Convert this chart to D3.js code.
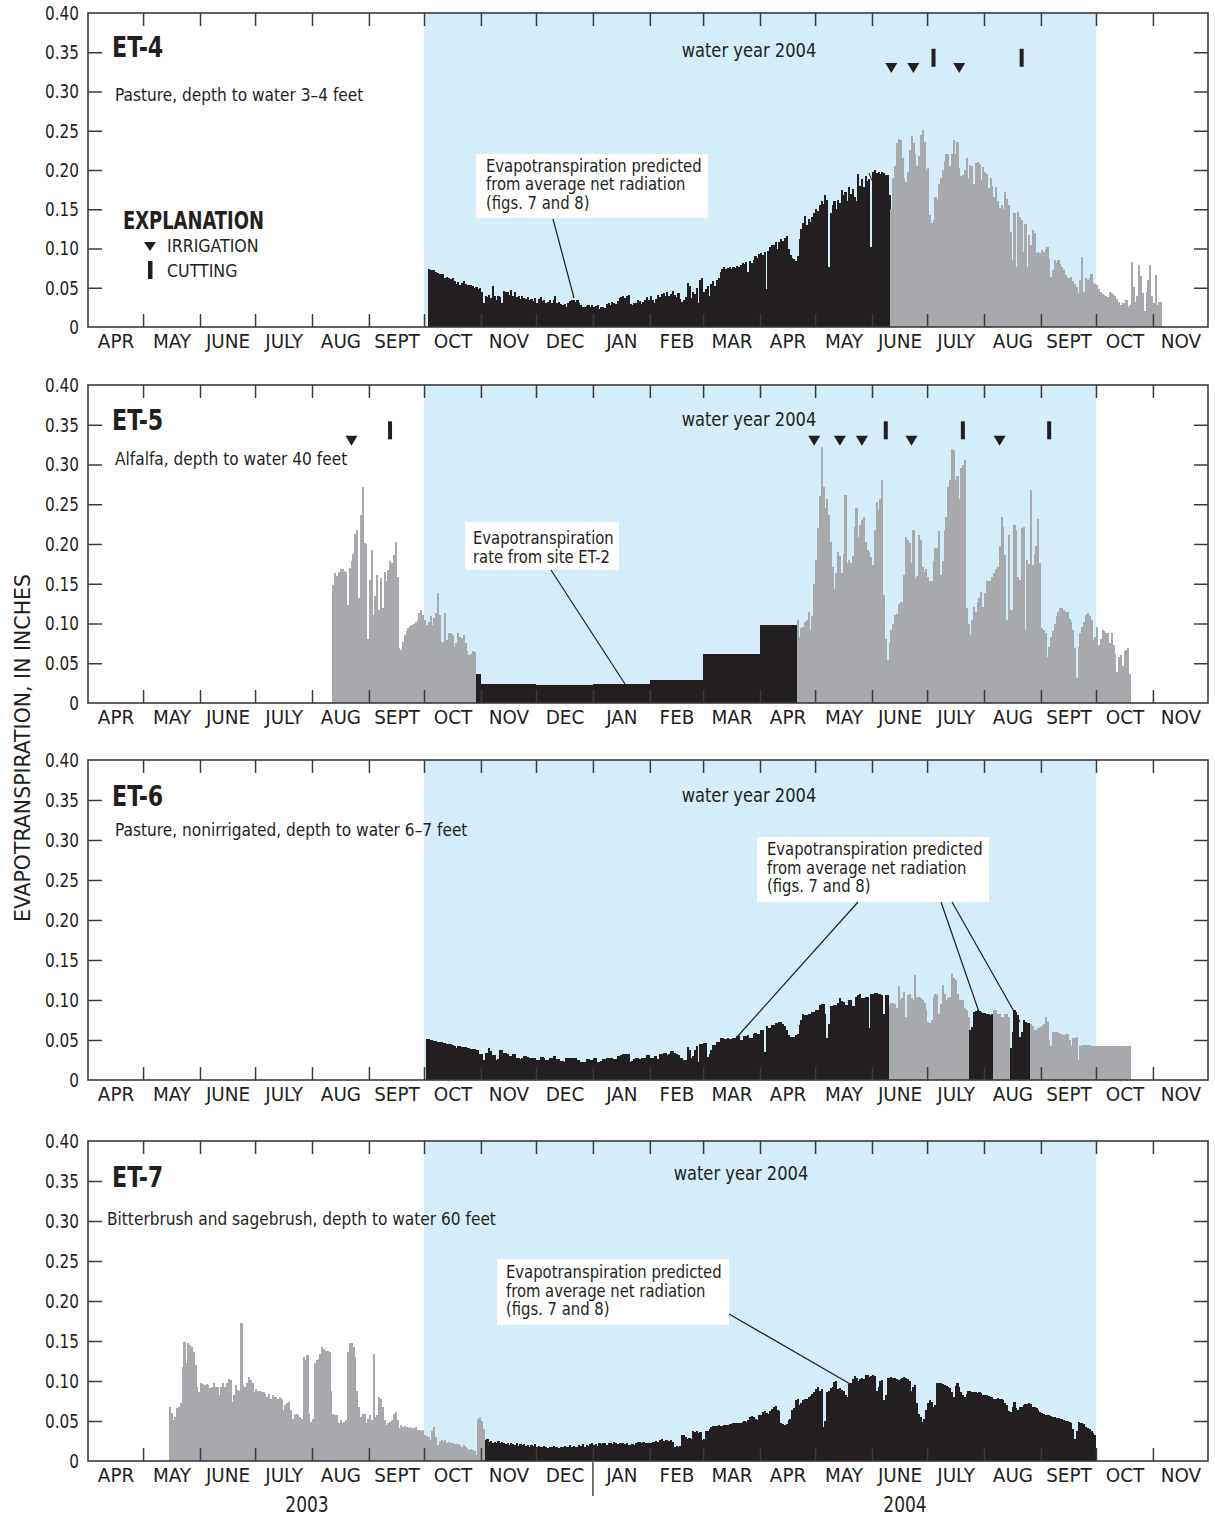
<!DOCTYPE html>
<html><head><meta charset="utf-8">
<script src="https://cdn.jsdelivr.net/npm/d3@7"></script>
<style>
body{margin:0;background:#fff;}
svg text{font-family:"Liberation Sans Narrow","Arial Narrow","DejaVu Sans Condensed",sans-serif;fill:#231f20;}
</style></head><body>
<svg id="chart" width="1215" height="1517"></svg>
<script>
// ---------------- DATA (daily evapotranspiration, thousandths of an inch) ----------------
const monthNames = ["JAN","FEB","MAR","APR","MAY","JUNE","JULY","AUG","SEPT","OCT","NOV","DEC"];
const yTickValues = [0,0.05,0.10,0.15,0.20,0.25,0.30,0.35,0.40];
const waterYear = ["2003-10-01","2004-10-01"];

// ET-4
const et4PredictedStart = "2003-10-03";
const et4Predicted = [74,73,72,73,70,69,68,67,68,63,64,62,61,62,59,55,57,53,56,58,55,54,54,54,52,50,51,49,50,45,
30,40,38,41,37,52,40,35,40,38,30,46,44,45,41,47,40,45,38,40,36,39,37,36,38,35,36,33,37,30,
36,38,33,35,31,32,34,30,35,39,31,32,29,28,29,26,31,33,34,35,32,34,31,28,26,25,27,28,26,28,
25,27,28,23,25,26,24,29,31,28,32,30,29,33,37,38,39,37,40,41,29,28,30,31,34,33,29,32,35,38,
34,40,35,31,36,41,38,42,43,39,44,40,42,46,41,38,43,36,32,34,38,56,52,37,45,42,50,30,60,62,
44,48,52,40,55,58,52,60,62,70,74,76,74,75,76,74,77,75,78,77,79,82,80,83,70,84,82,85,90,88,
93,94,92,96,48,97,102,105,104,108,100,108,112,110,114,116,100,92,88,86,84,90,112,125,132,142,130,138,134,140,
145,150,148,155,160,157,168,162,77,145,155,160,150,162,158,175,168,172,160,178,170,176,165,160,195,180,188,178,192,186,
188,102,198,200,196,197,195,198,196,193,193,168];
const et4MeasuredStart = "2004-06-11";
const et4Measured = [150,190,205,235,240,238,215,190,185,198,225,243,235,220,205,218,245,251,236,200,
203,143,132,136,166,162,182,190,200,212,221,220,205,220,238,221,236,202,192,194,
200,215,190,206,205,182,209,210,208,187,204,198,195,177,190,179,166,178,160,151,
155,150,172,163,155,121,85,145,76,147,140,136,96,131,77,117,104,123,120,94,
96,94,98,96,100,102,87,64,72,85,81,85,80,77,72,66,62,62,64,58,
55,51,43,60,89,45,62,60,62,68,56,55,53,48,45,42,41,39,38,44,
43,41,39,36,32,28,30,30,34,26,28,83,51,32,40,79,65,43,20,45,60,79,40,30,66,28,32,32];
const et4Irrigation = ["2004-06-11","2004-06-23","2004-07-18"];
const et4Cutting = ["2004-07-04","2004-08-21"];

// ET-5
const et5Measured2003Start = "2003-08-12";
const et5Measured2003 = [148,163,160,165,169,168,166,165,123,170,178,188,213,218,132,236,272,201,200,81,
155,192,111,134,161,117,157,119,165,153,167,178,176,186,203,159,69,67,77,86,
90,94,97,98,100,102,104,113,117,111,104,98,102,109,98,107,113,138,111,77,
77,113,79,88,88,86,71,75,88,83,82,86,75,65,60,62,65,64];
const et5FromET2Start = ["2003-10-29","2003-11-01","2003-12-01","2004-01-01","2004-02-01","2004-03-01","2004-04-01"];
const et5FromET2End   = ["2003-11-01","2003-12-01","2004-01-01","2004-02-01","2004-03-01","2004-04-01","2004-04-21"];
const et5FromET2 = [37,24,23,24,29,62,98];
const et5Measured2004Start = "2004-04-21";
const et5Measured2004 = [104,83,94,96,102,104,115,92,109,150,180,220,260,322,272,245,257,236,203,171,
144,163,190,185,163,188,262,176,180,176,185,222,245,209,224,230,234,203,192,190,
184,174,218,253,243,257,280,136,81,54,75,92,100,111,112,125,127,127,161,209,
205,201,176,218,157,160,211,205,171,165,168,159,153,153,178,195,195,216,161,178,
218,234,272,280,320,318,280,285,257,295,299,306,119,100,86,104,121,115,127,132,
140,121,138,153,153,153,159,163,169,171,197,234,222,186,104,211,117,117,224,218,
159,155,220,222,92,180,175,268,174,188,197,232,176,94,92,88,58,71,83,90,
100,109,115,119,119,117,115,114,106,102,92,69,31,71,88,96,102,111,113,110,
104,79,83,96,73,81,92,90,88,88,75,88,73,62,39,58,60,46,65,67,69,37];
const et5Irrigation = ["2003-08-22","2004-04-30","2004-05-14","2004-05-26","2004-06-22","2004-08-09"];
const et5Cutting = ["2003-09-12","2004-06-08","2004-07-20","2004-09-05"];

// ET-6
const et6PredictedAStart = "2003-10-02";
const et6PredictedA = [51,51,50,50,49,49,48,48,47,46,46,45,45,45,44,43,40,42,42,41,41,41,40,40,39,39,39,37,37,33,
33,25,34,34,40,36,31,31,25,26,37,37,34,34,33,30,30,32,32,28,28,26,27,30,30,29,28,28,27,27,
25,25,29,29,28,25,25,27,27,30,30,26,26,24,24,23,27,27,28,28,27,27,25,25,22,22,23,26,26,25,
25,27,27,23,23,24,26,26,28,28,27,27,26,26,30,30,31,32,32,33,33,23,24,26,28,28,26,27,28,28,
31,31,28,28,30,30,26,32,33,34,34,31,32,36,36,34,32,31,28,28,25,25,41,37,27,30,37,43,23,45,
45,46,46,29,33,37,44,44,48,48,52,52,51,51,52,51,51,53,53,55,55,50,50,55,55,56,53,53,57,59,
58,58,62,62,35,67,65,65,69,69,71,71,73,73,70,68,62,56,54,54,54,56,57,69,75,83,81,81,83,83,
85,85,87,87,94,95,95,83,52,70,92,92,94,94,96,102,99,98,94,94,100,100,92,92,104,106,108,102,102,104,
104,65,108,108,109,109,107,107,106,83,106,106];
const et6MeasuredAStart = "2004-06-10";
const et6MeasuredA = [94,96,96,95,90,117,100,102,110,79,106,108,102,100,131,104,104,102,100,96,
88,73,71,75,104,108,106,83,95,119,108,100,102,104,133,128,125,108,100,100,100,90,88,79];
const et6PredictedBStart = "2004-07-24";
const et6PredictedB = [63,66,85,86,88,86,85,84,84,83,82,81,82];
const et6MeasuredBStart = "2004-08-06";
const et6MeasuredB = [88,88,83,83,79,79,83,83,79];
const et6PredictedCStart = "2004-08-15";
const et6PredictedC = [40,60,88,85,81,54,60,75,73,71,71];
const et6MeasuredCStart = "2004-08-26";
const et6MeasuredC = [70,67,63,62,65,66,67,70,79,72,50,42,60,60,60,59,58,58,56,57,
58,50,42,52,53,54,25,42,44,44,44,44,44,43,43,43,43,43,42,42,42,42,42,42,42,43,42,42,42,42,42,42,42,42,42];

// ET-7
const et7MeasuredStart = "2003-05-15";
const et7Measured = [68,60,51,55,66,68,72,118,149,122,147,145,142,136,120,93,86,97,96,95,
96,95,91,93,97,92,93,82,93,97,93,98,103,101,74,82,95,89,88,172,
95,93,97,105,101,97,86,90,88,88,86,86,84,80,84,78,82,80,80,78,
80,78,64,70,72,74,64,53,57,59,57,55,53,130,126,132,59,49,52,122,
126,128,134,142,140,138,138,136,88,59,57,57,47,51,47,49,51,136,147,147,
142,130,88,68,55,59,59,47,53,57,51,134,55,57,80,78,68,51,45,47,
49,51,59,61,51,41,45,43,44,43,41,43,41,41,42,39,39,37,39,32,
31,30,26,37,43,30,20,25,26,24,26,22,24,22,23,21,21,21,20,18,
20,18,16,14,15,14,12,7,53,55,50,40];
const et7PredictedStart = "2003-11-03";
const et7Predicted = [26,27,24,25,23,24,22,25,23,24,22,21,23,20,22,21,20,22,19,21,
20,21,19,20,18,20,19,21,18,19,18,17,19,18,16,18,17,19,17,18,16,18,17,19,17,18,20,18,19,17,
18,20,19,21,18,20,19,21,22,20,21,19,22,21,23,22,20,22,23,21,24,22,21,23,22,22,21,22,20,20,
21,20,22,24,24,23,24,22,22,23,22,24,24,25,24,26,27,25,26,26,25,26,24,18,19,18,19,32,33,30,
28,29,27,37,36,38,35,36,26,28,37,38,40,43,44,44,44,45,44,44,45,45,45,46,46,47,47,48,47,48,
49,50,49,51,55,56,55,52,51,57,58,61,62,60,59,63,65,68,69,64,63,47,46,45,46,51,52,64,66,76,
78,70,72,76,77,78,80,81,84,86,90,92,88,90,43,50,86,88,91,92,99,100,90,91,89,88,82,80,96,98,
103,106,104,100,102,104,103,107,108,105,106,107,106,88,92,100,101,76,82,104,
104,105,104,104,103,101,102,104,105,104,103,100,88,93,95,72,59,55,49,52,
64,72,76,74,68,70,97,98,97,96,95,94,92,91,86,80,94,97,92,86,
82,80,84,88,87,86,86,86,85,86,85,83,82,82,81,80,80,78,78,79,
78,77,76,72,70,62,61,68,74,66,64,67,68,70,71,71,72,71,68,67,
66,64,61,60,59,58,58,57,56,55,55,54,54,53,52,51,50,50,49,47,40,28,38,49,48,47,46,43,41,40,38,35,33];

// ---------------- DRAWING ----------------
const BLACK = "#231f20", GRAY = "#a7a9ac", BLUE = "#d5ecf9", FRAME = "#3b3b3b";
const parse = d3.utcParse("%Y-%m-%d");
const svg = d3.select("#chart");
const x = d3.scaleUtc().domain([parse("2003-04-01"), parse("2004-12-01")]).range([88, 1208]);
const X0 = 88, X1 = 1208;

// condense text horizontally to mimic a condensed typeface
function fit(sel, f) {
  sel.each(function () {
    const L = this.getComputedTextLength();
    this.setAttribute("textLength", (L * f).toFixed(1));
    this.setAttribute("lengthAdjust", "spacingAndGlyphs");
  });
  return sel;
}

const panels = [
  {top:13, bottom:327, name:"ET-4", nameY:47, sub:"Pasture, depth to water 3\u20134 feet", subX:115, subY:94, wyX:749, wyY:50,
   series:[[et4PredictedStart,et4Predicted,BLACK],[et4MeasuredStart,et4Measured,GRAY]],
   irr:et4Irrigation, cut:et4Cutting,
   note:{box:[476,154,232,64], lines:["Evapotranspiration predicted","from average net radiation","(figs. 7 and 8)"], tx:486, ty:[166,184,203],
         leaders:[[553,219,574,298]]}},
  {top:385, bottom:703, name:"ET-5", nameY:420, sub:"Alfalfa, depth to water 40 feet", subX:115, subY:458, wyX:749, wyY:419,
   series:[[et5Measured2003Start,et5Measured2003,GRAY],[et5Measured2004Start,et5Measured2004,GRAY]],
   irr:et5Irrigation, cut:et5Cutting,
   note:{box:[465,522,154,48], lines:["Evapotranspiration","rate from site ET-2"], tx:473, ty:[538,557],
         leaders:[[551,570,625,684]]}},
  {top:760, bottom:1080, name:"ET-6", nameY:796, sub:"Pasture, nonirrigated, depth to water 6\u20137 feet", subX:115, subY:829, wyX:749, wyY:795,
   series:[[et6PredictedAStart,et6PredictedA,BLACK],[et6MeasuredAStart,et6MeasuredA,GRAY],[et6PredictedBStart,et6PredictedB,BLACK],
           [et6MeasuredBStart,et6MeasuredB,GRAY],[et6PredictedCStart,et6PredictedC,BLACK],[et6MeasuredCStart,et6MeasuredC,GRAY]],
   irr:[], cut:[],
   note:{box:[757,837,232,65], lines:["Evapotranspiration predicted","from average net radiation","(figs. 7 and 8)"], tx:767, ty:[849,868,886],
         leaders:[[858,902,737,1037],[941,902,979,1012],[952,902,1020,1022]]}},
  {top:1141, bottom:1461, name:"ET-7", nameY:1177, sub:"Bitterbrush and sagebrush, depth to water 60 feet", subX:107, subY:1218, wyX:741, wyY:1173,
   series:[[et7MeasuredStart,et7Measured,GRAY],[et7PredictedStart,et7Predicted,BLACK]],
   irr:[], cut:[],
   note:{box:[497,1259,232,66], lines:["Evapotranspiration predicted","from average net radiation","(figs. 7 and 8)"], tx:506, ty:[1272,1291,1309],
         leaders:[[729,1314,852,1385]]}}
];

const monthStarts = d3.utcMonths(parse("2003-04-01"), parse("2004-12-01"));
const innerBounds = monthStarts.slice(1);

panels.forEach((p, pi) => {
  const y = d3.scaleLinear().domain([0, 0.4]).range([p.bottom, p.top]);
  const g = svg.append("g");
  // water-year shading
  g.append("rect").attr("x", x(parse(waterYear[0]))).attr("y", p.top)
    .attr("width", x(parse(waterYear[1])) - x(parse(waterYear[0]))).attr("height", p.bottom - p.top).attr("fill", BLUE);

  // bars
  const drawSeries = (start, values, color) => {
    const s = parse(start);
    g.append("g").attr("shape-rendering", "crispEdges").selectAll("rect").data(values).join("rect")
      .attr("x", (v, i) => x(d3.utcDay.offset(s, i)))
      .attr("width", (v, i) => x(d3.utcDay.offset(s, i + 1)) - x(d3.utcDay.offset(s, i)) + 0.3)
      .attr("y", v => y(v / 1000))
      .attr("height", v => y(0) - y(v / 1000))
      .attr("fill", color);
  };
  if (pi === 1) {
    // monthly rates from ET-2
    g.append("g").attr("shape-rendering", "crispEdges").selectAll("rect").data(et5FromET2).join("rect")
      .attr("x", (v, i) => x(parse(et5FromET2Start[i])))
      .attr("width", (v, i) => x(parse(et5FromET2End[i])) - x(parse(et5FromET2Start[i])) + 0.3)
      .attr("y", v => y(v / 1000))
      .attr("height", v => y(0) - y(v / 1000))
      .attr("fill", BLACK);
  }
  p.series.forEach(s => drawSeries(s[0], s[1], s[2]));

  // inward month ticks (top and bottom)
  const styleTicks = a => { a.select(".domain").remove(); a.selectAll("line").attr("stroke", FRAME).attr("stroke-width", 1.5); };
  g.append("g").attr("transform", `translate(0,${p.top})`)
    .call(d3.axisBottom(x).tickValues(innerBounds).tickSize(13).tickFormat("")).call(styleTicks);
  g.append("g").attr("transform", `translate(0,${p.bottom})`)
    .call(d3.axisTop(x).tickValues(innerBounds).tickSize(13).tickFormat("")).call(styleTicks);
  // inward value ticks (left and right)
  const inner = yTickValues.filter(v => v > 0 && v < 0.4);
  g.append("g").attr("transform", `translate(${X0},0)`)
    .call(d3.axisRight(y).tickValues(inner).tickSize(14).tickFormat("")).call(styleTicks);
  g.append("g").attr("transform", `translate(${X1},0)`)
    .call(d3.axisLeft(y).tickValues(inner).tickSize(14).tickFormat("")).call(styleTicks);
  // value labels
  g.append("g").attr("transform", `translate(${X0},0)`)
    .call(d3.axisLeft(y).tickValues(yTickValues).tickSize(0).tickPadding(9)
      .tickFormat(v => v === 0 ? "0" : d3.format(".2f")(v)))
    .call(a => a.select(".domain").remove())
    .call(a => fit(a.selectAll("text").attr("font-size", 19.5).attr("fill", BLACK)
      .style("font-family", '"Liberation Sans Narrow","Arial Narrow","DejaVu Sans Condensed",sans-serif'), 0.87));
  // month labels
  const mids = monthStarts.map(m => new Date((+m + +d3.utcMonth.offset(m, 1)) / 2));
  g.append("g").attr("transform", `translate(0,${p.bottom})`)
    .call(d3.axisBottom(x).tickValues(mids).tickSize(0).tickPadding(7)
      .tickFormat(d => monthNames[d.getUTCMonth()]))
    .call(a => a.select(".domain").remove())
    .call(a => fit(a.selectAll("text").attr("font-size", 20).attr("fill", BLACK)
      .style("font-family", '"Liberation Sans Narrow","Arial Narrow","DejaVu Sans Condensed",sans-serif'), 1.02));

  // frame
  g.append("rect").attr("x", X0).attr("y", p.top).attr("width", X1 - X0).attr("height", p.bottom - p.top)
    .attr("fill", "none").attr("stroke", FRAME).attr("stroke-width", 1.6);

  // texts
  fit(g.append("text").attr("x", 112).attr("y", p.nameY).attr("dy", "0.36em")
    .attr("font-size", 28).attr("font-weight", "bold").text(p.name), 0.88);
  fit(g.append("text").attr("x", p.subX).attr("y", p.subY).attr("dy", "0.36em")
    .attr("font-size", 18.5).text(p.sub), 0.925);
  fit(g.append("text").attr("x", p.wyX).attr("y", p.wyY).attr("dy", "0.36em").attr("text-anchor", "middle")
    .attr("font-size", 19.5).text("water year 2004"), 0.93);

  // note box
  const n = p.note;
  g.append("rect").attr("x", n.box[0]).attr("y", n.box[1]).attr("width", n.box[2]).attr("height", n.box[3]).attr("fill", "#fff");
  n.lines.forEach((t, i) => fit(g.append("text").attr("x", n.tx).attr("y", n.ty[i]).attr("dy", "0.36em")
    .attr("font-size", 17.5).text(t), 0.94));
  n.leaders.forEach(l => g.append("line").attr("x1", l[0]).attr("y1", l[1]).attr("x2", l[2]).attr("y2", l[3])
    .attr("stroke", BLACK).attr("stroke-width", 1.2));

  // event markers
  const half = d => x(parse(d)) + (x(d3.utcDay.offset(parse(d), 1)) - x(parse(d))) / 2;
  p.irr.forEach(d => {
    const cx = half(d), cy = y(0.33);
    g.append("path").attr("d", `M${cx - 6},${cy - 5}L${cx + 6},${cy - 5}L${cx},${cy + 5}Z`).attr("fill", BLACK);
  });
  p.cut.forEach(d => {
    const cx = half(d), cy = y(0.343);
    g.append("rect").attr("x", cx - 2).attr("y", cy - 9).attr("width", 4).attr("height", 18).attr("fill", BLACK);
  });
});

// thin leader inside ET-4 predicted bars
svg.append("line").attr("x1", 869).attr("y1", 173).attr("x2", 888).attr("y2", 219).attr("stroke", BLACK).attr("stroke-width", 1);

// explanation
fit(svg.append("text").attr("x", 123).attr("y", 220).attr("dy", "0.36em").attr("font-size", 24).attr("font-weight", "bold").text("EXPLANATION"), 0.83);
svg.append("path").attr("d", "M144,242L156,242L150,251Z").attr("fill", BLACK);
fit(svg.append("text").attr("x", 167).attr("y", 245).attr("dy", "0.36em").attr("font-size", 18.5).text("IRRIGATION"), 0.95);
svg.append("rect").attr("x", 148).attr("y", 261).attr("width", 4.5).attr("height", 18).attr("fill", BLACK);
fit(svg.append("text").attr("x", 167).attr("y", 270).attr("dy", "0.36em").attr("font-size", 18.5).text("CUTTING"), 0.95);

// y-axis title
svg.append("text").attr("transform", "translate(22,748) rotate(-90)").attr("text-anchor", "middle").attr("dy", "0.36em")
  .attr("font-size", 21).attr("textLength", 348).attr("lengthAdjust", "spacingAndGlyphs").text("EVAPOTRANSPIRATION, IN INCHES");

// year labels and separator under last panel
fit(svg.append("text").attr("x", 307).attr("y", 1504).attr("dy", "0.36em").attr("text-anchor", "middle").attr("font-size", 21).text("2003"), 0.9);
fit(svg.append("text").attr("x", 905).attr("y", 1504).attr("dy", "0.36em").attr("text-anchor", "middle").attr("font-size", 21).text("2004"), 0.9);
svg.append("line").attr("x1", x(parse("2004-01-01"))).attr("x2", x(parse("2004-01-01"))).attr("y1", 1462).attr("y2", 1496)
  .attr("stroke", BLACK).attr("stroke-width", 1.2);
</script>
</body></html>
